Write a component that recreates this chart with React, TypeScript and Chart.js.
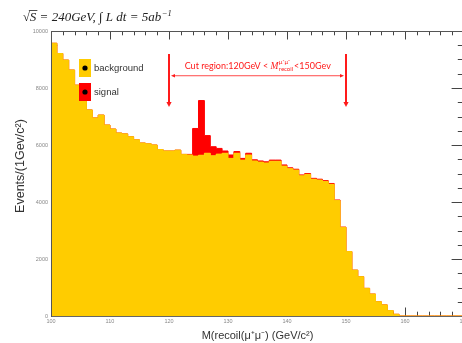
import React, { useEffect, useRef } from "react";
import { Chart, registerables } from "chart.js";
Chart.register(...registerables);

// ---- data (1 GeV bins, low edges) ----
const binLow = [
  100, 101, 102, 103, 104, 105, 106, 107, 108, 109,
  110, 111, 112, 113, 114, 115, 116, 117, 118, 119,
  120, 121, 122, 123, 124, 125, 126, 127, 128, 129,
  130, 131, 132, 133, 134, 135, 136, 137, 138, 139,
  140, 141, 142, 143, 144, 145, 146, 147, 148, 149,
  150, 151, 152, 153, 154, 155, 156, 157, 158, 159,
  160, 161, 162, 163, 164, 165, 166, 167, 168, 169,
];
const background = [
  9570, 9210, 8980, 8630, 8100, 7650, 7230, 6950, 7050, 6700,
  6560, 6420, 6390, 6290, 6180, 6070, 6040, 6000, 5840, 5790,
  5790, 5820, 5670, 5650, 5610, 5640, 5710, 5620, 5680, 5710,
  5530, 5710, 5470, 5650, 5440, 5400, 5370, 5430, 5430, 5260,
  5170, 5120, 4920, 4970, 4800, 4770, 4720, 4620, 4050, 3110,
  2260, 1610, 1380, 970, 770, 500, 390, 190, 60, 0,
  0, 0, 0, 0, 0, 0, 0, 0, 0, 0,
];
const signal = [
  0, 0, 0, 0, 0, 0, 0, 0, 0, 0,
  0, 0, 0, 0, 0, 0, 0, 0, 0, 0,
  0, 0, 0, 20, 970, 1920, 620, 320, 200, 80,
  120, 60, 60, 60, 40, 40, 40, 40, 40, 40,
  30, 30, 30, 30, 30, 30, 30, 30, 20, 10,
  0, 0, 0, 0, 0, 0, 0, 0, 0, 0,
  0, 0, 0, 0, 0, 0, 0, 0, 0, 0,
];
const xEnd = 170;
const xTicks = [100, 110, 120, 130, 140, 150, 160, 170];
const yTicks = [0, 2000, 4000, 6000, 8000, 10000];
const seriesNames = ["background", "signal"];
const seriesColors = ["#FFCC00", "#FF0000"];
const cutLow = 120;
const cutHigh = 150;
const xTitle = "M(recoil(μ⁺μ⁻) (GeV/c²)";
const yTitle = "Events/(1Gev/c²)";

const SANS = "'Liberation Sans', Arial, sans-serif";
const SERIF = "'Liberation Serif', 'Times New Roman', serif";

function line(ctx: CanvasRenderingContext2D, x1: number, y1: number, x2: number, y2: number) {
  ctx.beginPath();
  ctx.moveTo(x1, y1);
  ctx.lineTo(x2, y2);
  ctx.stroke();
}

function head(ctx: CanvasRenderingContext2D, tx: number, ty: number, dx: number, dy: number, len: number, half: number) {
  const px = -dy, py = dx;
  ctx.beginPath();
  ctx.moveTo(tx, ty);
  ctx.lineTo(tx - dx * len + px * half, ty - dy * len + py * half);
  ctx.lineTo(tx - dx * len - px * half, ty - dy * len - py * half);
  ctx.closePath();
  ctx.fill();
}

const decor = {
  id: "decor",
  beforeDatasetsDraw(chart: any) {
    const { ctx, chartArea: a, scales } = chart;
    const x = scales.x, y = scales.y;
    ctx.save();
    ctx.strokeStyle = "#444";
    ctx.lineWidth = 1;
    for (let v = 100; v <= 170; v += 2) {
      const px = Math.round(x.getPixelForValue(v)) + 0.5;
      const len = v % 10 === 0 ? 8.5 : 4.3;
      line(ctx, px, a.top, px, a.top + len);
      line(ctx, px, a.bottom, px, a.bottom - len);
    }
    for (let v = 0; v <= 10000; v += 500) {
      const py = Math.round(y.getPixelForValue(v)) + 0.5;
      const len = v % 2000 === 0 ? 12.4 : 6.2;
      line(ctx, a.left, py, a.left + len, py);
      line(ctx, a.right, py, a.right - len, py);
    }
    ctx.strokeStyle = "#666";
    line(ctx, a.left, a.bottom + 0.5, a.right, a.bottom + 0.5);
    ctx.restore();
  },
  afterDatasetsDraw(chart: any) {
    const { ctx, chartArea: a, scales } = chart;
    const x = scales.x, y = scales.y;
    ctx.save();
    // frame
    ctx.strokeStyle = "#555";
    ctx.lineWidth = 1;
    line(ctx, a.left + 0.5, a.top, a.left + 0.5, a.bottom + 1);
    line(ctx, a.left, a.top + 0.5, a.right, a.top + 0.5);
    line(ctx, a.right - 0.5, a.top, a.right - 0.5, a.bottom + 1);

    // legend
    const lx = a.left + 28, lw = 12;
    const rows = [
      { top: a.top + 28, h: 18 },
      { top: a.top + 52, h: 18 },
    ];
    rows.forEach((r, i) => {
      ctx.fillStyle = seriesColors[i];
      ctx.fillRect(lx, r.top, lw, r.h);
      ctx.fillStyle = "#000";
      ctx.beginPath();
      ctx.arc(lx + lw / 2, r.top + r.h / 2, 2.6, 0, Math.PI * 2);
      ctx.fill();
      ctx.fillStyle = "#333";
      ctx.font = `9.5px ${SANS}`;
      ctx.textAlign = "left";
      ctx.textBaseline = "middle";
      ctx.fillText(seriesNames[i], lx + lw + 3, r.top + r.h / 2);
    });

    // cut region arrows
    const red = "#FF1A1A";
    ctx.strokeStyle = red;
    ctx.fillStyle = red;
    const yTop = y.getPixelForValue(9190);
    const yBot = y.getPixelForValue(7330);
    [cutLow, cutHigh].forEach((v) => {
      const px = x.getPixelForValue(v);
      ctx.lineWidth = 2;
      line(ctx, px, yTop, px, yBot - 4);
      head(ctx, px, yBot, 0, 1, 5, 2.6);
    });
    const yh = y.getPixelForValue(8430);
    const xl = x.getPixelForValue(cutLow) + 2;
    const xr = x.getPixelForValue(cutHigh) - 2;
    ctx.lineWidth = 0.8;
    line(ctx, xl + 3, yh, xr - 3, yh);
    head(ctx, xl, yh, -1, 0, 4, 1.8);
    head(ctx, xr, yh, 1, 0, 4, 1.8);

    // cut text
    const fs = 9;
    const cx = x.getPixelForValue((cutLow + cutHigh) / 2);
    const by = y.getPixelForValue(8680);
    const f1 = `${fs}px Lato, ${SANS}`;
    const fM = `italic ${fs + 0.5}px ${SERIF}`;
    const fs2 = `6px Lato, ${SANS}`;
    const s1 = "Cut region:120GeV < ";
    const s2 = "<150Gev";
    ctx.font = f1;
    const w1 = ctx.measureText(s1).width;
    const w2 = ctx.measureText(s2).width;
    ctx.font = fM;
    const wM = ctx.measureText("M").width;
    ctx.font = fs2;
    const wSup = ctx.measureText("μ⁺μ⁻").width;
    const wSub = ctx.measureText("recoil").width;
    const wS = Math.max(wSup, wSub) + 1;
    let tx = cx - (w1 + wM + wS + w2) / 2;
    ctx.textAlign = "left";
    ctx.textBaseline = "alphabetic";
    ctx.font = f1;
    ctx.fillText(s1, tx, by);
    tx += w1;
    ctx.font = fM;
    ctx.fillText("M", tx, by);
    tx += wM + 0.5;
    ctx.font = fs2;
    ctx.fillText("μ⁺μ⁻", tx, by - 5);
    ctx.fillText("recoil", tx, by + 2);
    tx += wS;
    ctx.font = f1;
    ctx.fillText(s2, tx, by);
    ctx.restore();
  },
  afterDraw(chart: any) {
    const { ctx, chartArea: a } = chart;
    ctx.save();
    // header
    ctx.fillStyle = "#222";
    ctx.textAlign = "left";
    ctx.textBaseline = "alphabetic";
    const hb = 21;
    let hx = 23;
    ctx.font = `12.5px ${SERIF}`;
    ctx.fillText("√", hx, hb);
    hx += ctx.measureText("√").width;
    ctx.font = `italic 13px ${SERIF}`;
    const wS = ctx.measureText("S").width;
    ctx.fillText("S", hx, hb);
    ctx.strokeStyle = "#222";
    ctx.lineWidth = 0.8;
    line(ctx, hx - 1, hb - 10.5, hx + wS + 1, hb - 10.5);
    hx += wS;
    const main = " = 240GeV, ∫ L dt = 5ab";
    ctx.fillText(main, hx, hb);
    hx += ctx.measureText(main).width;
    ctx.font = `italic 8.5px ${SERIF}`;
    ctx.fillText("−1", hx + 0.5, hb - 5.5);

    // axis titles
    ctx.fillStyle = "#333";
    ctx.font = `11px ${SANS}`;
    ctx.textAlign = "center";
    ctx.textBaseline = "middle";
    ctx.fillText(xTitle, (a.left + a.right) / 2, 336);
    ctx.save();
    ctx.translate(21, 166);
    ctx.rotate(-Math.PI / 2);
    ctx.font = `12.5px ${SANS}`;
    ctx.fillText(yTitle, 0, 0);
    ctx.restore();
    ctx.restore();
  },
};

export default function App() {
  const ref = useRef<HTMLCanvasElement | null>(null);
  useEffect(() => {
    if (!ref.current) return;
    const toPts = (arr: number[]) => {
      const pts = binLow.map((b, i) => ({ x: b, y: arr[i] }));
      pts.push({ x: xEnd, y: arr[arr.length - 1] });
      return pts;
    };
    const chart = new Chart(ref.current, {
      type: "line",
      data: {
        datasets: [
          {
            label: seriesNames[0],
            data: toPts(background),
            stepped: "before",
            fill: "origin",
            backgroundColor: seriesColors[0],
            borderColor: seriesColors[0],
            borderWidth: 1,
            pointRadius: 0,
          },
          {
            label: seriesNames[1],
            data: toPts(signal),
            stepped: "before",
            fill: "-1",
            backgroundColor: seriesColors[1],
            borderColor: seriesColors[1],
            borderWidth: 1,
            pointRadius: 0,
          },
        ],
      },
      options: {
        animation: false,
        responsive: false,
        events: [],
        layout: { padding: { top: 31, right: 16, left: 0, bottom: 0 } },
        plugins: { legend: { display: false }, tooltip: { enabled: false }, title: { display: false } },
        scales: {
          x: {
            type: "linear",
            min: 100,
            max: 170,
            grid: { display: false, drawTicks: false },
            border: { display: false },
            afterBuildTicks: (s: any) => {
              s.ticks = xTicks.map((v) => ({ value: v }));
            },
            afterFit: (s: any) => {
              s.height = 27;
            },
            ticks: {
              autoSkip: false,
              maxRotation: 0,
              padding: 2,
              color: "#888",
              font: { size: 5.5, family: SANS },
              callback: (v: any) => String(v),
            },
          },
          y: {
            type: "linear",
            min: 0,
            max: 10000,
            stacked: true,
            grid: { display: false, drawTicks: false },
            border: { display: false },
            afterBuildTicks: (s: any) => {
              s.ticks = yTicks.map((v) => ({ value: v }));
            },
            afterFit: (s: any) => {
              s.width = 51;
            },
            ticks: {
              padding: 3,
              color: "#888",
              font: { size: 5.5, family: SANS },
              callback: (v: any) => String(v),
            },
          },
        },
      },
      plugins: [decor],
    } as any);
    return () => chart.destroy();
  }, []);
  return (
    <div
      style={{
        position: "fixed",
        left: 0,
        top: 0,
        width: 462,
        height: 343,
        overflow: "hidden",
        background: "#fff",
      }}
    >
      <canvas ref={ref} width={480} height={343} style={{ display: "block" }} />
    </div>
  );
}
